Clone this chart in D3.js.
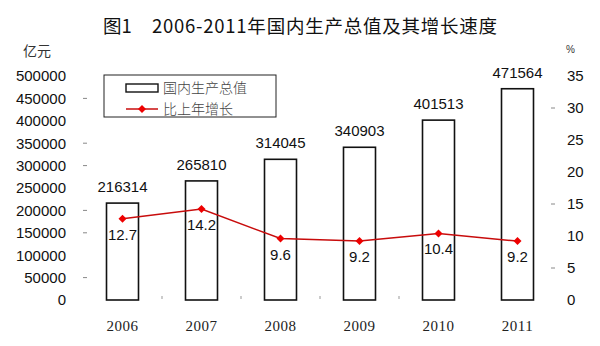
<!DOCTYPE html>
<html>
<head>
<meta charset="utf-8">
<script src="https://cdn.jsdelivr.net/npm/d3@7"></script>
<style>
  html, body { margin: 0; padding: 0; background: #fff; }
  svg { display: block; }
</style>
</head>
<body>
<svg id="chart" width="600" height="346"></svg>
<script>
// GDP (亿元) and annual growth (%), 2006-2011
const years = ["2006", "2007", "2008", "2009", "2010", "2011"];
const gdp = [216314, 265810, 314045, 340903, 401513, 471564];
const growth = [12.7, 14.2, 9.6, 9.2, 10.4, 9.2];
const leftTicks = [0, 50000, 100000, 150000, 200000, 250000, 300000, 350000, 400000, 450000, 500000];
const rightTicks = [0, 5, 10, 15, 20, 25, 30, 35];
// faint tick dashes that show beside some labels
const leftDashes = [50000, 150000, 200000, 300000, 350000, 450000];
const rightDashes = [5, 15, 30];

const svg = d3.select("#chart");
const sans = "'Liberation Sans', Arial, sans-serif";
const serif = "'Liberation Serif', 'Times New Roman', serif";
const cjk = "'Noto Sans CJK SC', sans-serif";

const x = d3.scaleBand().domain(years).range([83, 557]).paddingInner(0.595).paddingOuter(0.2975);
const yL = d3.scaleLinear().domain([0, 500000]).range([300, 76]);
const yR = d3.scaleLinear().domain([0, 35]).range([300, 76]);

// title
const title = svg.append("g").attr("font-family", cjk).attr("font-size", 18.5)
  .attr("font-weight", 400).attr("fill", "#111");
title.append("text").attr("x", 103).attr("y", 33).text("图1");
title.append("text").attr("x", 152).attr("y", 33)
  .attr("textLength", 345).attr("lengthAdjust", "spacing")
  .text("2006-2011年国内生产总值及其增长速度");

// unit labels
svg.append("text").attr("x", 23).attr("y", 56)
  .attr("font-family", cjk).attr("font-size", 14).attr("fill", "#333").text("亿元");
svg.append("text").attr("x", 566).attr("y", 53)
  .attr("font-family", sans).attr("font-size", 10).attr("fill", "#333").text("%");

// left axis
const axL = d3.axisLeft(yL).tickValues(leftTicks).tickSize(0).tickPadding(0).tickFormat(d3.format("d"));
const gL = svg.append("g").attr("transform", "translate(66,0)").call(axL);
gL.select(".domain").remove();
gL.selectAll("text").attr("font-family", sans).attr("font-size", 15).attr("fill", "#111");

// right axis
const axR = d3.axisRight(yR).tickValues(rightTicks).tickSize(0).tickPadding(0);
const gR = svg.append("g").attr("transform", "translate(567,0)").call(axR);
gR.select(".domain").remove();
gR.selectAll("text").attr("font-family", sans).attr("font-size", 15).attr("fill", "#111");

// faint dashes
svg.append("g").selectAll("line").data(leftDashes).join("line")
  .attr("x1", 83).attr("x2", 87).attr("y1", d => yL(d)).attr("y2", d => yL(d))
  .attr("stroke", "#888").attr("stroke-width", 1);
svg.append("g").selectAll("line").data(rightDashes).join("line")
  .attr("x1", 551).attr("x2", 555).attr("y1", d => yR(d)).attr("y2", d => yR(d))
  .attr("stroke", "#888").attr("stroke-width", 1);

// category separators on the baseline
const step = x.step();
svg.append("g").selectAll("line").data(years.slice(1, 5)).join("line")
  .attr("x1", d => x(d) - (step - x.bandwidth()) / 2)
  .attr("x2", d => x(d) - (step - x.bandwidth()) / 2)
  .attr("y1", 296).attr("y2", 299)
  .attr("stroke", "#999").attr("stroke-width", 1);

// bars
svg.append("g").selectAll("rect").data(gdp).join("rect")
  .attr("x", (d, i) => x(years[i]))
  .attr("y", d => yL(d))
  .attr("width", x.bandwidth())
  .attr("height", d => yL(0) - yL(d))
  .attr("fill", "#fff").attr("stroke", "#111").attr("stroke-width", 1.6);

// bar value labels
svg.append("g").selectAll("text").data(gdp).join("text")
  .attr("x", (d, i) => x(years[i]) + x.bandwidth() / 2)
  .attr("y", d => yL(d) - 11)
  .attr("text-anchor", "middle")
  .attr("font-family", sans).attr("font-size", 15).attr("fill", "#111")
  .text(d => d);

// growth line
const cx = i => x(years[i]) + x.bandwidth() / 2;
const line = d3.line().x((d, i) => cx(i)).y(d => yR(d));
svg.append("path").datum(growth)
  .attr("d", line).attr("fill", "none")
  .attr("stroke", "#c80c0c").attr("stroke-width", 1.5);

const diamond = d3.symbol(d3.symbolSquare, 32);
svg.append("g").selectAll("path").data(growth).join("path")
  .attr("d", diamond)
  .attr("transform", (d, i) => `translate(${cx(i)},${yR(d)}) rotate(45)`)
  .attr("fill", "#ee0000");

svg.append("g").selectAll("text").data(growth).join("text")
  .attr("x", (d, i) => cx(i))
  .attr("y", d => yR(d) + 21)
  .attr("text-anchor", "middle")
  .attr("font-family", sans).attr("font-size", 15).attr("fill", "#111")
  .text(d => d.toFixed(1));

// x labels
svg.append("g").selectAll("text").data(years).join("text")
  .attr("x", d => x(d) + x.bandwidth() / 2)
  .attr("y", 331)
  .attr("text-anchor", "middle")
  .attr("font-family", serif).attr("font-size", 15).attr("fill", "#222")
  .attr("letter-spacing", 0.5)
  .text(d => d);

// legend
const lg = svg.append("g");
lg.append("rect").attr("x", 104).attr("y", 75).attr("width", 172).attr("height", 42)
  .attr("fill", "#fff").attr("stroke", "#222").attr("stroke-width", 1);
lg.append("rect").attr("x", 126).attr("y", 84).attr("width", 32).attr("height", 8)
  .attr("fill", "#fff").attr("stroke", "#111").attr("stroke-width", 1.4);
lg.append("line").attr("x1", 126).attr("x2", 158).attr("y1", 109).attr("y2", 109)
  .attr("stroke", "#c80c0c").attr("stroke-width", 1.5);
lg.append("path").attr("d", diamond).attr("transform", "translate(142,109) rotate(45)")
  .attr("fill", "#ee0000");
lg.append("text").attr("x", 163).attr("y", 93)
  .attr("font-family", cjk).attr("font-size", 14).attr("font-weight", 300).attr("fill", "#444").text("国内生产总值");
lg.append("text").attr("x", 163).attr("y", 114)
  .attr("font-family", cjk).attr("font-size", 14).attr("font-weight", 300).attr("fill", "#444").text("比上年增长");
</script>
</body>
</html>
